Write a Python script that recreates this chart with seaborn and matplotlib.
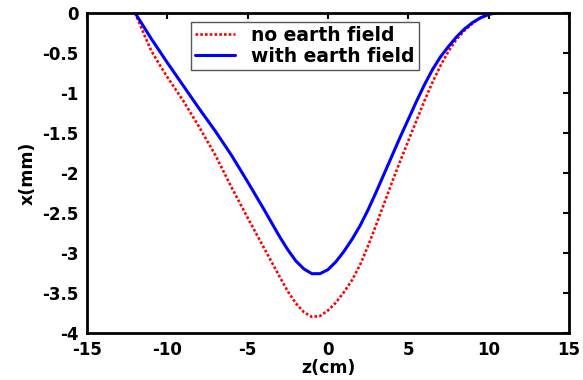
import numpy as np
import pandas as pd
import matplotlib
matplotlib.use("Agg")
import matplotlib.pyplot as plt
import seaborn as sns

# values
z_no_field = [-12.0, -11.5, -11.0, -10.5, -10.0, -9.0, -8.0, -7.0, -6.0, -5.0, -4.0,
              -3.0, -2.5, -2.0, -1.5, -1.0, -0.5, 0.0, 0.5, 1.0, 1.5, 2.0, 2.5,
              3.0, 3.5, 4.0, 4.5, 5.0, 5.5, 6.0, 6.5, 7.0, 7.5, 8.0, 8.5, 9.0,
              9.5, 10.0, 10.6]
x_no_field = [0.0, -0.24, -0.47, -0.64, -0.80, -1.10, -1.43, -1.78, -2.18, -2.56, -2.93,
              -3.30, -3.48, -3.63, -3.74, -3.80, -3.79, -3.72, -3.62, -3.49, -3.34, -3.15, -2.91,
              -2.65, -2.38, -2.11, -1.85, -1.60, -1.35, -1.10, -0.87, -0.66, -0.48, -0.33, -0.22, -0.13,
              -0.06, -0.02, 0.0]

z_earth_field = [-12.0, -11.5, -11.0, -10.0, -9.0, -8.0, -7.0, -6.0, -5.0, -4.0, -3.0,
                 -2.5, -2.0, -1.5, -1.0, -0.5, 0.0, 0.5, 1.0, 1.5, 2.0, 2.5, 3.0,
                 3.5, 4.0, 4.5, 5.0, 5.5, 6.0, 6.5, 7.0, 7.5, 8.0, 8.5, 9.0, 9.5,
                 10.0, 10.4]
x_earth_field = [0.0, -0.16, -0.32, -0.62, -0.91, -1.20, -1.48, -1.78, -2.11, -2.45, -2.80,
                 -2.96, -3.10, -3.20, -3.26, -3.26, -3.21, -3.11, -2.98, -2.83, -2.66, -2.46, -2.24,
                 -2.01, -1.78, -1.55, -1.33, -1.11, -0.90, -0.71, -0.55, -0.42, -0.30, -0.20, -0.12, -0.06,
                 -0.02, 0.0]

labels = ["no earth field", "with earth field"]
x_ticks = [-15, -10, -5, 0, 5, 10, 15]
y_ticks = [-4, -3.5, -3, -2.5, -2, -1.5, -1, -0.5, 0]
y_tick_labels = ["-4", "-3.5", "-3", "-2.5", "-2", "-1.5", "-1", "-0.5", "0"]

df = pd.concat([
    pd.DataFrame({"z": z_no_field, "x": x_no_field, "case": labels[0]}),
    pd.DataFrame({"z": z_earth_field, "x": x_earth_field, "case": labels[1]}),
])

sns.set_style("white")
plt.rcParams["font.family"] = ["DejaVu Sans"]
plt.rcParams["font.weight"] = "bold"
plt.rcParams["text.color"] = "black"
plt.rcParams["axes.labelcolor"] = "black"

fig = plt.figure(figsize=(5.83, 3.80), dpi=100)
ax = fig.add_axes([0.149, 0.124, 0.827, 0.842])

sns.lineplot(data=df[df.case == labels[0]], x="z", y="x", sort=False, ax=ax,
             color="#ff0000", linewidth=1.9, linestyle=(0, (1, 0.8)), label=labels[0])
sns.lineplot(data=df[df.case == labels[1]], x="z", y="x", sort=False, ax=ax,
             color="#0000ff", linewidth=2.2, label=labels[1])

ax.set_xlim(-15, 15)
ax.set_ylim(-4, 0)
ax.set_xticks(x_ticks)
ax.set_yticks(y_ticks)
ax.set_xticklabels([str(t) for t in x_ticks])
ax.set_yticklabels(y_tick_labels)
ax.tick_params(direction="in", length=4, width=1.5, top=True, right=True,
               labelsize=12, pad=6, colors="black")
for sp in ax.spines.values():
    sp.set_linewidth(2)
    sp.set_color("black")
    sp.set_visible(True)

ax.set_xlabel("z(cm)", fontsize=12.5, fontweight="bold", labelpad=0)
ax.set_ylabel("x(mm)", fontsize=12.5, fontweight="bold", labelpad=4)

leg = ax.legend(loc="upper left", bbox_to_anchor=(0.216, 0.972), fontsize=13.5,
                frameon=True, fancybox=False, framealpha=1, edgecolor="#555555",
                handlelength=2.1, handletextpad=0.9, borderpad=0.22, labelspacing=0.1,
                borderaxespad=0)
leg.get_frame().set_linewidth(1.0)
for t in leg.get_texts():
    t.set_color("black")

fig.savefig("out.png", dpi=100)
